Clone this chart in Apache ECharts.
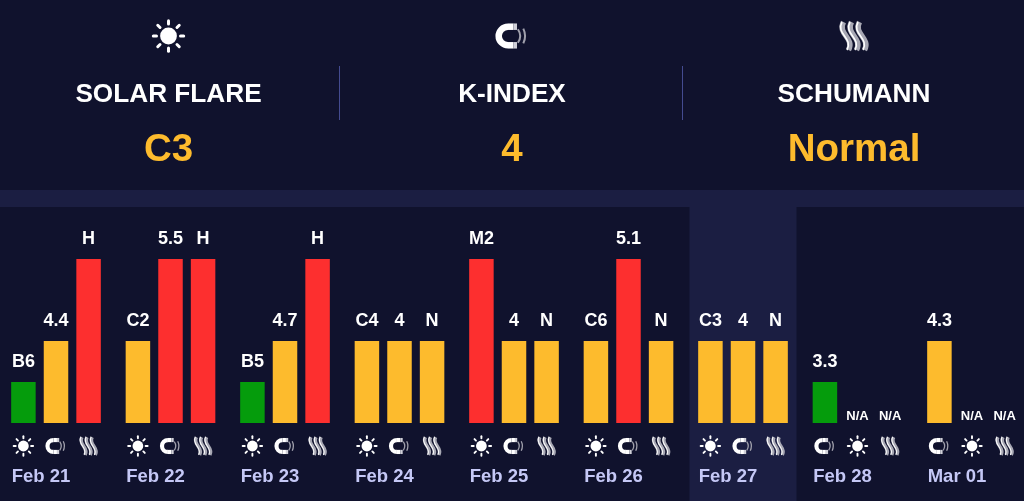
<!DOCTYPE html>
<html>
<head>
<meta charset="utf-8">
<style>
  html, body { margin: 0; padding: 0; background: #10122d; }
  #chart { width: 1024px; height: 501px; }
</style>
<script src="https://cdn.jsdelivr.net/npm/echarts@6/dist/echarts.min.js"></script>
</head>
<body>
<div id="chart"></div>
<script>
var days = ['Feb 21', 'Feb 22', 'Feb 23', 'Feb 24', 'Feb 25', 'Feb 26', 'Feb 27', 'Feb 28', 'Mar 01']

// bar height level per slot: 1 low, 2 medium, 4 high, 0 no data
var slot1Levels = [1, 2, 1, 2, 4, 2, 2, 1, 2]
var slot2Levels = [2, 4, 2, 2, 2, 4, 2, 0, 0]
var slot3Levels = [4, 4, 4, 2, 2, 2, 2, 0, 0]

var slot1Labels = ['B6', 'C2', 'B5', 'C4', 'M2', 'C6', 'C3', '3.3', '4.3']
var slot2Labels = ['4.4', '5.5', '4.7', '4', '4', '5.1', '4', 'N/A', 'N/A']
var slot3Labels = ['H', 'H', 'H', 'N', 'N', 'N', 'N', 'N/A', 'N/A']

// the last two days start with the magnet
var slot1Icons = ['sun', 'sun', 'sun', 'sun', 'sun', 'sun', 'sun', 'magnet', 'magnet']
var slot2Icons = ['magnet', 'magnet', 'magnet', 'magnet', 'magnet', 'magnet', 'magnet', 'sun', 'sun']
var slot3Icons = ['waves', 'waves', 'waves', 'waves', 'waves', 'waves', 'waves', 'waves', 'waves']

var headerTitles = ['SOLAR FLARE', 'K-INDEX', 'SCHUMANN']
var headerValues = ['C3', '4', 'Normal']
var headerIcons = ['sun', 'magnet', 'waves']
var todayIndex = 6

var levelColors = { 0: '#fdbb2d', 1: '#059c0c', 2: '#fdbb2d', 4: '#fd2f2f' }
var fontFamily = '"Liberation Sans", Arial, sans-serif'
var headerX = [168.5, 512, 854]
var slotStep = 32.6
var iconScale = 0.64

function sunIcon() {
  var els = [{ type: 'circle', shape: { cx: 0, cy: 0, r: 8.4 }, style: { fill: '#fff' } }]
  for (var i = 0; i < 8; i++) {
    var a = i * Math.PI / 4
    els.push({
      type: 'line',
      shape: { x1: 12 * Math.cos(a), y1: 12 * Math.sin(a), x2: 15.2 * Math.cos(a), y2: 15.2 * Math.sin(a) },
      style: { stroke: '#fff', lineWidth: 3, lineCap: 'round' }
    })
  }
  return els
}

function magnetIcon() {
  var white = { stroke: '#fff', lineWidth: 6.5, fill: 'none' }
  var grey = { stroke: '#d0d0d8', lineWidth: 6.5 }
  var thin = { stroke: '#a0a0ac', lineWidth: 2, fill: 'none' }
  return [
    { type: 'arc', shape: { cx: -4, cy: 0, r: 9.3, startAngle: Math.PI / 2, endAngle: Math.PI * 1.5 }, style: white },
    { type: 'line', shape: { x1: -4, y1: -9.3, x2: 1.5, y2: -9.3 }, style: { stroke: '#fff', lineWidth: 6.5 } },
    { type: 'line', shape: { x1: -4, y1: 9.3, x2: 1.5, y2: 9.3 }, style: { stroke: '#fff', lineWidth: 6.5 } },
    { type: 'line', shape: { x1: 1.5, y1: -9.3, x2: 5, y2: -9.3 }, style: grey },
    { type: 'line', shape: { x1: 1.5, y1: 9.3, x2: 5, y2: 9.3 }, style: grey },
    { type: 'arc', shape: { cx: -4, cy: 0, r: 12, startAngle: -0.6, endAngle: 0.6 }, style: thin },
    { type: 'arc', shape: { cx: -4, cy: 0, r: 17, startAngle: -0.45, endAngle: 0.45 }, style: thin }
  ]
}

function wavesIcon() {
  var els = []
  ;[-8, 0, 8].forEach(function(x) {
    var curve = { x1: x - 2.5, y1: -14, cpx1: x - 9, cpy1: -2, cpx2: x + 9, cpy2: 2, x2: x + 2.5, y2: 14 }
    els.push({ type: 'bezierCurve', shape: curve, style: { stroke: '#a8a8b4', lineWidth: 5.5, fill: 'none' } })
    var edge = { x1: curve.x1 - 1.5, y1: curve.y1, cpx1: curve.cpx1 - 1.5, cpy1: curve.cpy1, cpx2: curve.cpx2 - 1.5, cpy2: curve.cpy2, x2: curve.x2 - 1.5, y2: curve.y2 }
    els.push({ type: 'bezierCurve', shape: edge, style: { stroke: '#fff', lineWidth: 1.6, fill: 'none' } })
  })
  return els
}

var iconBuilders = { sun: sunIcon, magnet: magnetIcon, waves: wavesIcon }

function iconGroup(name, x, y, scale) {
  return { type: 'group', x: x, y: y, scaleX: scale, scaleY: scale, children: iconBuilders[name]() }
}

function barSeries(name, levels, labels) {
  return {
    name: name,
    type: 'bar',
    z: 3,
    clip: false,
    barWidth: 24.5,
    barGap: '33%',
    data: levels.map(function(level, i) {
      var noData = labels[i] === 'N/A'
      return {
        value: level,
        itemStyle: { color: levelColors[level] },
        label: {
          show: true,
          position: 'top',
          distance: noData ? 0 : 11,
          formatter: labels[i],
          color: '#fff',
          fontFamily: fontFamily,
          fontWeight: 'bold',
          fontSize: noData ? 13 : 18
        }
      }
    })
  }
}

var iconRows = [slot1Icons, slot2Icons, slot3Icons]
var iconData = []
days.forEach(function(d, i) {
  iconRows.forEach(function(row, slot) {
    iconData.push([i, slot, row[i]])
  })
})

var header = []
header.push({ type: 'rect', shape: { x: 0, y: 190, width: 1024, height: 17 }, style: { fill: '#1b1e42' } })
;[339.5, 682.5].forEach(function(x) {
  header.push({ type: 'line', shape: { x1: x, y1: 66, x2: x, y2: 120 }, style: { stroke: '#444b90', lineWidth: 1 } })
})
headerTitles.forEach(function(t, i) {
  header.push({ type: 'text', style: { text: t, x: headerX[i], y: 95, textAlign: 'center', textVerticalAlign: 'middle', fill: '#fff', font: 'bold 26.2px ' + fontFamily } })
  header.push({ type: 'text', style: { text: headerValues[i], x: headerX[i], y: 150, textAlign: 'center', textVerticalAlign: 'middle', fill: '#fdbb2d', font: 'bold 38.5px ' + fontFamily } })
  header.push(iconGroup(headerIcons[i], headerX[i], 36, 1))
})

var myChart = echarts.init(document.getElementById('chart'))

var option = {
  backgroundColor: '#10122d',
  animation: false,
  graphic: header,
  grid: { left: 56, width: 916, top: 259, height: 164 },
  xAxis: {
    type: 'category',
    data: days,
    boundaryGap: false,
    z: 5,
    axisLine: { show: false },
    axisTick: { show: false },
    axisLabel: {
      interval: 0,
      showMinLabel: true,
      showMaxLabel: true,
      margin: 44,
      color: '#c5c8f6',
      fontFamily: fontFamily,
      fontWeight: 'bold',
      fontSize: 18.5,
      padding: [0, 30, 0, 0]
    }
  },
  yAxis: { type: 'value', min: 0, max: 4, show: false },
  series: [
    {
      name: 'today',
      type: 'custom',
      z: 1,
      silent: true,
      clip: false,
      data: [[todayIndex, 0]],
      encode: { x: 0, y: 1 },
      renderItem: function(params, api) {
        var cx = api.coord([api.value(0), 0])[0]
        return { type: 'rect', shape: { x: cx - 53.5, y: 207, width: 107, height: 294 }, style: { fill: '#1b1e42' } }
      }
    },
    barSeries('slot 1', slot1Levels, slot1Labels),
    barSeries('slot 2', slot2Levels, slot2Labels),
    barSeries('slot 3', slot3Levels, slot3Labels),
    {
      name: 'icons',
      type: 'custom',
      z: 4,
      silent: true,
      clip: false,
      data: iconData,
      encode: { x: 0, y: 1 },
      renderItem: function(params, api) {
        var item = iconData[params.dataIndex]
        var pt = api.coord([item[0], 0])
        return iconGroup(item[2], pt[0] + (item[1] - 1) * slotStep, pt[1] + 23, iconScale)
      }
    }
  ]
}

myChart.setOption(option)
</script>
</body>
</html>
